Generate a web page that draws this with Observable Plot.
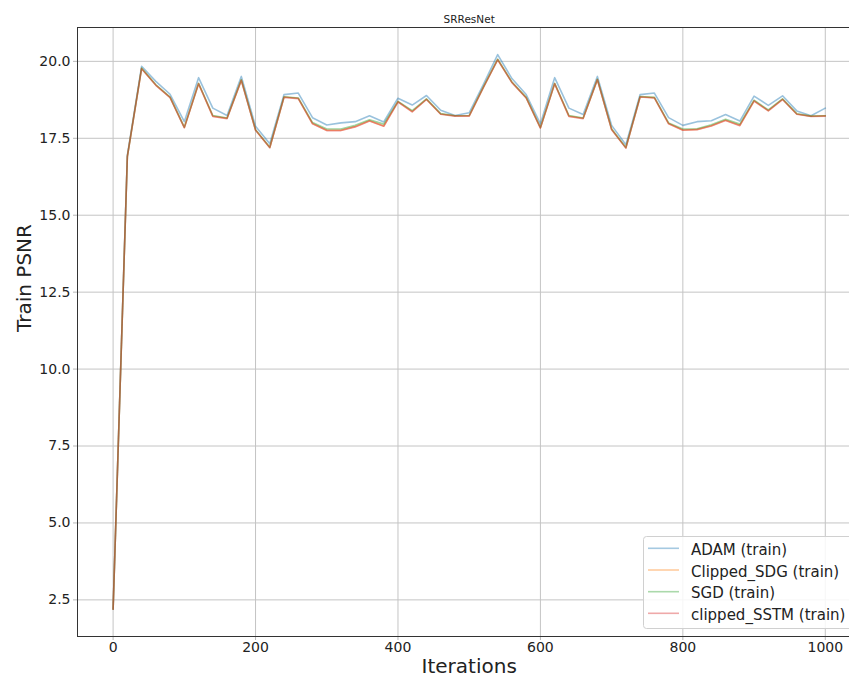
<!DOCTYPE html>
<html>
<head>
<meta charset="utf-8">
<script src="https://cdn.jsdelivr.net/npm/d3@7"></script>
<script src="https://cdn.jsdelivr.net/npm/@observablehq/plot@0.6"></script>
<style>
  body { margin: 0; background: #fff; }
  #chart svg { display: block; font-family: "DejaVu Sans", sans-serif; }
  #chart g[aria-label$="axis tick"] { stroke: #b8b8b8; }
</style>
</head>
<body>
<div id="chart"></div>
<script>
// ---- data ----
const iterations = [0, 20, 40, 60, 80, 100, 120, 140, 160, 180, 200, 220, 240, 260, 280, 300, 320, 340, 360, 380, 400,
  420, 440, 460, 480, 500, 520, 540, 560, 580, 600, 620, 640, 660, 680, 700, 720, 740, 760, 780, 800,
  820, 840, 860, 880, 900, 920, 940, 960, 980, 1000];

const adam = [2.2, 16.95, 19.84, 19.35, 18.93, 18.04, 19.47, 18.48, 18.24, 19.51, 17.89, 17.32, 18.92, 18.97, 18.17, 17.93, 18.00, 18.04, 18.23, 18.03, 18.80,
  18.58, 18.89, 18.41, 18.24, 18.33, 19.25, 20.22, 19.44, 18.92, 17.97, 19.47, 18.48, 18.27, 19.51, 17.92, 17.29, 18.92, 18.97, 18.17, 17.92,
  18.04, 18.07, 18.27, 18.06, 18.87, 18.57, 18.88, 18.39, 18.23, 18.48];

const clippedSdg = [2.2, 16.9, 19.77, 19.23, 18.83, 17.85, 19.28, 18.22, 18.15, 19.39, 17.77, 17.2, 18.84, 18.80, 17.98, 17.76, 17.76, 17.88, 18.07, 17.90, 18.69,
  18.37, 18.77, 18.29, 18.23, 18.23, 19.16, 20.06, 19.32, 18.82, 17.84, 19.28, 18.22, 18.15, 19.41, 17.79, 17.19, 18.85, 18.82, 17.98, 17.77,
  17.79, 17.91, 18.09, 17.92, 18.72, 18.40, 18.77, 18.29, 18.22, 18.23];

const sgd = [2.2, 16.9, 19.78, 19.24, 18.84, 17.86, 19.29, 18.24, 18.16, 19.40, 17.78, 17.21, 18.85, 18.81, 18.01, 17.80, 17.80, 17.92, 18.10, 17.96, 18.70,
  18.40, 18.78, 18.30, 18.23, 18.24, 19.17, 20.07, 19.33, 18.83, 17.85, 19.29, 18.24, 18.16, 19.42, 17.80, 17.20, 18.86, 18.83, 18.00, 17.80,
  17.81, 17.94, 18.12, 17.96, 18.74, 18.42, 18.78, 18.30, 18.22, 18.23];

const clippedSstm = [2.2, 16.9, 19.76, 19.22, 18.82, 17.84, 19.27, 18.21, 18.14, 19.38, 17.76, 17.19, 18.83, 18.79, 17.97, 17.75, 17.75, 17.87, 18.06, 17.89, 18.68,
  18.36, 18.76, 18.28, 18.22, 18.22, 19.15, 20.05, 19.31, 18.81, 17.83, 19.27, 18.21, 18.14, 19.40, 17.78, 17.18, 18.84, 18.81, 17.97, 17.76,
  17.78, 17.90, 18.08, 17.91, 18.71, 18.39, 18.76, 18.28, 18.21, 18.22];

const seriesNames = ["ADAM (train)", "Clipped_SDG (train)", "SGD (train)", "clipped_SSTM (train)"];
const seriesColors = ["#1f77b4", "#ff7f0e", "#2ca02c", "#d62728"];
const xTicks = [0, 200, 400, 600, 800, 1000];
const yTicks = [2.5, 5.0, 7.5, 10.0, 12.5, 15.0, 17.5, 20.0];
const titleText = "SRResNet";
const xLabel = "Iterations";
const yLabel = "Train PSNR";

// ---- build table ----
const seriesValues = [adam, clippedSdg, sgd, clippedSstm];
const rows = [];
seriesValues.forEach((vals, k) => vals.forEach((v, i) => rows.push({ iter: iterations[i], psnr: v, series: seriesNames[k] })));

const xDomain = [-50, 1034];
const yDomain = [1.31, 21.1];

const chart = Plot.plot({
  width: 849,
  height: 679,
  marginTop: 27,
  marginLeft: 77,
  marginRight: 0,
  marginBottom: 43,
  style: { fontFamily: "DejaVu Sans, sans-serif", fontSize: "14px", background: "#fff", color: "#222", overflow: "visible" },
  x: { domain: xDomain },
  y: { domain: yDomain },
  color: { domain: seriesNames, range: seriesColors },
  marks: [
    Plot.gridX({ ticks: xTicks, stroke: "#c4c4c4", strokeOpacity: 1, strokeWidth: 1 }),
    Plot.gridY({ ticks: yTicks, stroke: "#c4c4c4", strokeOpacity: 1, strokeWidth: 1 }),
    Plot.axisX({ ticks: xTicks, tickSize: 4, tickPadding: 2, tickFormat: d3.format("d"), label: null, fontSize: 14 }),
    Plot.axisY({ ticks: yTicks, tickSize: 4, tickPadding: 3, tickFormat: d3.format(".1f"), label: null, fontSize: 14 }),
    Plot.ruleX([xDomain[0]], { stroke: "#333", strokeWidth: 1 }),
    Plot.ruleY([yDomain[0]], { stroke: "#333", strokeWidth: 1 }),
    Plot.ruleY([yDomain[1]], { stroke: "#333", strokeWidth: 1 }),
    Plot.line(rows, { x: "iter", y: "psnr", z: "series", stroke: "series", strokeOpacity: 0.45, strokeWidth: 1.6 }),
    Plot.text([titleText], { x: () => 500, frameAnchor: "top", lineAnchor: "bottom", dy: -5, fontSize: 10.5, fill: "#222" }),
    Plot.text([xLabel], { x: () => 500, frameAnchor: "bottom", lineAnchor: "top", dy: 22, fontSize: 20, fill: "#222" }),
    Plot.text([yLabel], { y: () => (yDomain[0] + yDomain[1]) / 2, frameAnchor: "left", rotate: -90, dx: -53, fontSize: 20, fill: "#222" })
  ]
});

document.getElementById("chart").appendChild(chart);

// ---- legend (inside plot, lower right, as in the reference) ----
const svg = d3.select(chart);
const lg = svg.append("g").attr("class", "legend").attr("text-anchor", "start");
lg.append("rect")
  .attr("x", 643.5).attr("y", 536.5).attr("width", 220).attr("height", 92)
  .attr("rx", 3).attr("fill", "#fff").attr("fill-opacity", 0.85)
  .attr("stroke", "#d0d0d0").attr("stroke-width", 1);
const rowY = [548.3, 570, 591.7, 613.3];
seriesNames.forEach((name, i) => {
  lg.append("line")
    .attr("x1", 648).attr("x2", 679).attr("y1", rowY[i]).attr("y2", rowY[i])
    .attr("stroke", seriesColors[i]).attr("stroke-opacity", 0.4).attr("stroke-width", 1.6);
  lg.append("text")
    .attr("x", 691).attr("y", rowY[i] + 6.6)
    .attr("text-anchor", "start")
    .attr("font-size", 15).attr("fill", "#222")
    .text(name);
});
</script>
</body>
</html>
